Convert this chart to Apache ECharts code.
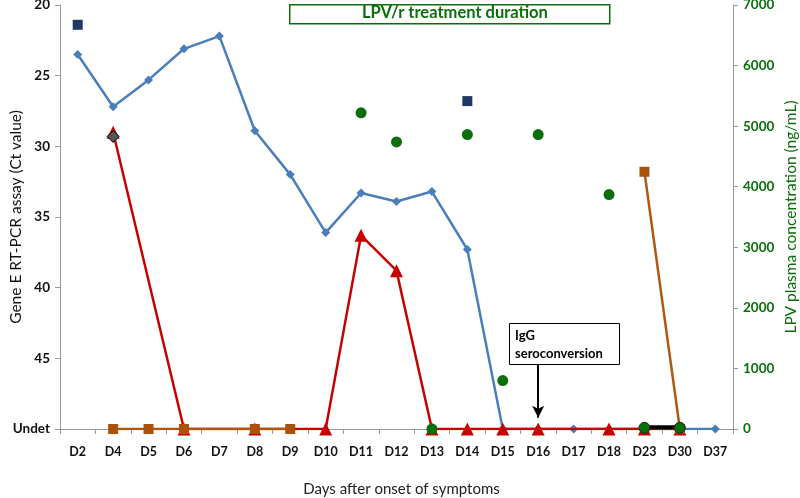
<!DOCTYPE html>
<html><head><meta charset="utf-8">
<script src="https://cdn.jsdelivr.net/npm/echarts@6/dist/echarts.min.js"></script>
<style>html,body{margin:0;padding:0;background:#fff;overflow:hidden}#c{width:800px;height:498px}</style>
</head><body><div id="c"></div>
<script>
const categories = ['D2','D4','D5','D6','D7','D8','D9','D10','D11','D12','D13','D14','D15','D16','D17','D18','D23','D30','D37'];
// Ct values (left axis, inverted); 50 = Undet
const blueCt   = [23.5,27.2,25.3,23.1,22.2,28.9,32.0,36.1,33.3,33.9,33.2,37.3,50,50,50,50,50,50,50];
const redCt    = [null,29.0,null,50,null,50,null,50,36.3,38.8,50,50,50,50,null,50,50,50,null];
const brownCt  = [null,50,50,50,'-',50,50,null,null,null,null,null,null,null,null,null,31.8,50,null];
const grayCt   = [null,29.3,null,null,null,null,null,null,null,null,null,null,null,null,null,null,null,null,null];
const navyCt   = [21.4,null,null,null,null,null,null,null,null,null,null,26.8,null,null,null,null,null,null,null];
// LPV plasma concentration (right axis, ng/mL)
const lpvConc  = [null,null,null,null,null,null,null,null,5220,4740,0,4860,800,4860,null,3870,20,20,null];
const blackBar = [null,null,null,null,null,null,null,null,null,null,null,null,null,null,null,null,30,30,null];
const leftTicks = [20,25,30,35,40,45,'Undet'];
const rightTicks = [0,1000,2000,3000,4000,5000,6000,7000];

const FONT = 'Lato, "Open Sans", sans-serif';
const green = '#0a6e0a';
const chart = echarts.init(document.getElementById('c'));

const brownData = brownCt.map(v => v === '-' ? {value: 50, symbol: 'none'} : v);
const lpvData = lpvConc.map((v, i) => (v !== null && (categories[i] === 'D23' || categories[i] === 'D30'))
  ? {value: v, itemStyle: {borderColor: '#222', borderWidth: 1}} : v);

chart.setOption({
  animation: false,
  textStyle: {fontFamily: FONT},
  grid: {left: 60, right: 67, top: 5, bottom: 69, containLabel: false, outerBoundsMode: 'none'},
  xAxis: {
    type: 'category', data: categories, boundaryGap: true,
    name: 'Days after onset of symptoms', nameLocation: 'middle', nameGap: 53, nameMoveOverlap: false,
    nameTextStyle: {fontFamily: FONT, fontSize: 15, color: '#222', padding: [0, 0, 0, 10]},
    axisLine: {lineStyle: {color: '#999', width: 1}},
    axisTick: {show: true, length: 5, lineStyle: {color: '#999'}},
    axisLabel: {fontFamily: FONT, fontWeight: 'bold', fontSize: 12.5, color: '#111', margin: 16, interval: 0}
  },
  yAxis: [{
    type: 'value', min: 20, max: 50, interval: 5, inverse: true,
    name: 'Gene E RT-PCR assay (Ct value)', nameLocation: 'middle', nameGap: 36, nameMoveOverlap: false,
    nameTextStyle: {fontFamily: FONT, fontSize: 15.5, color: '#111'},
    axisLine: {show: true, lineStyle: {color: '#999'}},
    axisTick: {show: true, length: 5, lineStyle: {color: '#999'}},
    splitLine: {show: false},
    axisLabel: {fontFamily: FONT, fontWeight: 'bold', fontSize: 13.5, color: '#111', margin: 10,
      formatter: v => leftTicks[(v - 20) / 5]}
  }, {
    type: 'value', min: 0, max: 7000, interval: 1000, position: 'right',
    name: 'LPV plasma concentration (ng/mL)', nameLocation: 'middle', nameGap: 50, nameMoveOverlap: false,
    nameRotate: 90,
    nameTextStyle: {fontFamily: FONT, fontSize: 15.5, color: green},
    axisLine: {show: true, lineStyle: {color: '#999'}},
    axisTick: {show: true, length: 5, lineStyle: {color: '#999'}},
    splitLine: {show: false},
    axisLabel: {fontFamily: FONT, fontWeight: 'bold', fontSize: 13.5, color: green, margin: 10,
      formatter: v => String(rightTicks[v / 1000])}
  }],
  series: [
    {name: 'blue', type: 'line', yAxisIndex: 0, data: blueCt, z: 2,
      lineStyle: {color: '#4a7ebb', width: 2.5}, itemStyle: {color: '#4a7ebb'},
      symbol: 'diamond', symbolSize: 9},
    {name: 'red', type: 'line', yAxisIndex: 0, data: redCt, z: 3, connectNulls: true,
      lineStyle: {color: '#c80000', width: 2.5}, itemStyle: {color: '#c80000'},
      symbol: 'triangle', symbolSize: 13,
      markLine: {silent: true, symbol: ['none', 'arrow'], symbolSize: [9, 12],
        lineStyle: {color: '#000', width: 2, type: 'solid'}, label: {show: false},
        data: [[{coord: ['D16', 45.45]}, {coord: ['D16', 49.2]}]]}},
    {name: 'brown', type: 'line', yAxisIndex: 0, data: brownData, z: 4, connectNulls: false,
      lineStyle: {color: '#b0580f', width: 2.5}, itemStyle: {color: '#a8520c'},
      symbol: 'rect', symbolSize: 10},
    {name: 'black', type: 'line', yAxisIndex: 1, data: blackBar, z: 5,
      lineStyle: {color: '#000', width: 4}, symbol: 'none'},
    {name: 'lpv', type: 'scatter', yAxisIndex: 1, data: lpvData, z: 6,
      itemStyle: {color: green, opacity: 1}, symbol: 'circle', symbolSize: 11},
    {name: 'gray', type: 'scatter', yAxisIndex: 0, data: grayCt, z: 7,
      itemStyle: {color: '#555', borderColor: '#000', borderWidth: 1, opacity: 1}, symbol: 'diamond', symbolSize: 12},
    {name: 'navy', type: 'scatter', yAxisIndex: 0, data: navyCt, z: 7,
      itemStyle: {color: '#1f3864', opacity: 1}, symbol: 'rect', symbolSize: 10}
  ],
  graphic: [
    {type: 'rect', left: 289, top: 4, shape: {width: 320, height: 19},
      style: {fill: '#fff', stroke: green, lineWidth: 1.5}, z: 10},
    {type: 'text', left: 362, top: 4, z: 11,
      style: {text: 'LPV/r treatment duration', fill: green, font: 'bold 16.5px ' + FONT}},
    {type: 'rect', left: 509, top: 323, shape: {width: 110, height: 41},
      style: {fill: '#fff', stroke: '#000', lineWidth: 1}, z: 10},
    {type: 'text', left: 515, top: 327, z: 11,
      style: {text: 'IgG\nseroconversion', fill: '#000', font: 'bold 13px ' + FONT, lineHeight: 18}}
  ]
});
</script></body></html>
